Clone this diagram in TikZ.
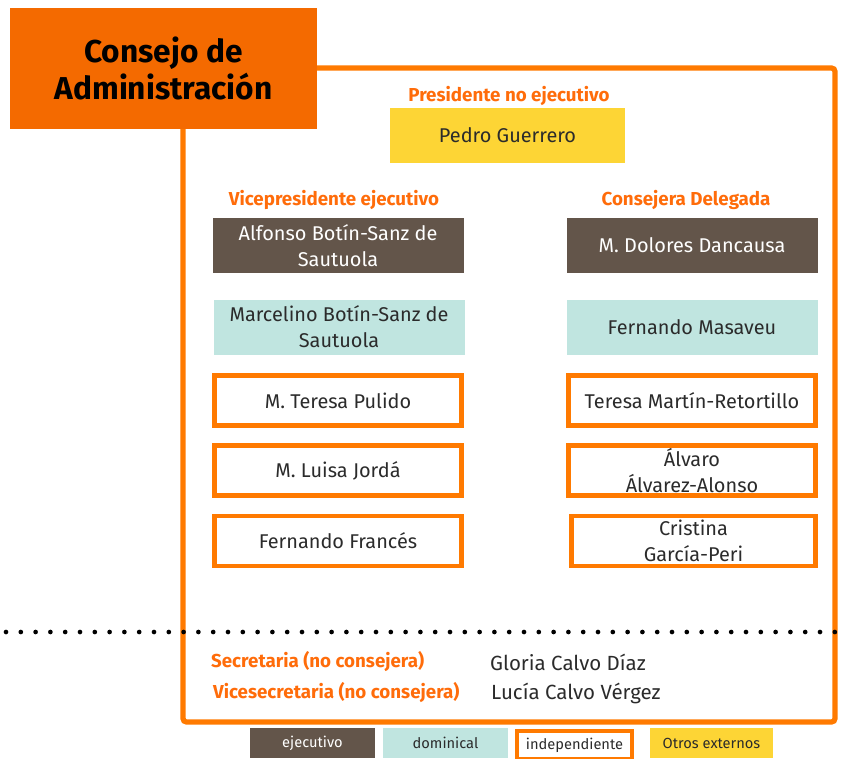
\documentclass[tikz,border=0pt]{standalone}
\usepackage{fontspec}
\setmainfont{Fira Sans}
\usepackage{xcolor}
\usetikzlibrary{positioning}

\definecolor{boxorange}{HTML}{F46A00}
\definecolor{frameorange}{HTML}{FF7A00}
\definecolor{textorange}{HTML}{FF6C0A}
\definecolor{ejebrown}{HTML}{63554A}
\definecolor{domteal}{HTML}{C0E5E0}
\definecolor{extyellow}{HTML}{FDD535}
\definecolor{nametext}{HTML}{2B2B2B}

\newcommand{\pxu}{0.03cm}

\tikzset{
  member/.style={minimum width=251*\pxu, minimum height=55*\pxu, align=center,
    font=\fontsize{17}{22}\selectfont, inner sep=0pt},
  ejec/.style={member, fill=ejebrown, text=white},
  domin/.style={member, fill=domteal, text=nametext},
  indep/.style={member, draw=frameorange, line width=3.5pt, fill=white, text=nametext,
    minimum width=247*\pxu, minimum height=50*\pxu},
  otros/.style={member, fill=extyellow, text=nametext},
  cargo/.style={text=textorange, font=\bfseries\fontsize{16}{19}\selectfont},
  legend/.style={minimum width=124*\pxu, minimum height=30*\pxu, inner sep=0pt,
    font=\fontsize{12.5}{15}\selectfont, text=nametext},
}

\begin{document}
\begin{tikzpicture}[x=\pxu,y=-\pxu]
\useasboundingbox (0,0) rectangle (853,758);

% marco del consejo
\draw[frameorange, line width=4.5pt, rounded corners=3pt] (183,68) rectangle (835,722);
\node[fill=boxorange, minimum width=307*\pxu, minimum height=121*\pxu, align=center,
  font=\bfseries\fontsize{27}{31}\selectfont] (titulo) at (163.5,68.5) {Consejo de\\Administración};

% presidente
\node[cargo] (lblpres) at (509,96) {Presidente no ejecutivo};
\node[otros, minimum width=235*\pxu] (guerrero) at (507.5,135.5) {Pedro Guerrero};

% columna izquierda
\node[cargo] (lblvice) at (334,200) {Vicepresidente ejecutivo};
\node[ejec] (alfonso) at (338,245.5) {Alfonso Botín-Sanz de\\Sautuola};
\node[domin] (marcelino) at (339,327) {Marcelino Botín-Sanz de\\Sautuola};
\node[indep] (pulido) at (338,400.5) {M. Teresa Pulido};
\node[indep] (jorda) at (338,470.5) {M. Luisa Jordá};
\node[indep] (frances) at (338,541) {Fernando Francés};

% columna derecha
\node[cargo] (lbldeleg) at (686,200) {Consejera Delegada};
\node[ejec] (dancausa) at (692,245.5) {M. Dolores Dancausa};
\node[domin] (masaveu) at (692,327) {Fernando Masaveu};
\node[indep] (retortillo) at (692,400.5) {Teresa Martín-Retortillo};
\node[indep] (alvarez) at (692,470.5) {Álvaro\\Álvarez-Alonso};
\node[indep, minimum width=244*\pxu] (garcia) at (693.5,541) {Cristina\\García-Peri};

% separador
\foreach \i in {0,...,56}
  \fill[black] (6+14.8*\i,632) circle (2pt);

% secretaria
\node[cargo, anchor=west] (lblsec) at (207,662) {Secretaria (no consejera)};
\node[anchor=west, text=nametext, font=\fontsize{17.5}{21}\selectfont] (calvodiaz) at (486,662) {Gloria Calvo Díaz};
\node[cargo, anchor=west] (lblvsec) at (209,693) {Vicesecretaria (no consejera)};
\node[anchor=west, text=nametext, font=\fontsize{17.5}{21}\selectfont] (calvovergez) at (487,693) {Lucía Calvo Vérgez};

% leyenda
\node[legend, fill=ejebrown, text=white, minimum width=125*\pxu] (legejec) at (312.5,743) {ejecutivo};
\node[legend, fill=domteal, minimum width=125*\pxu] (legdom) at (445.5,743) {dominical};
\node[legend, draw=frameorange, line width=3pt, minimum width=115*\pxu, minimum height=28*\pxu] (legind) at (574.5,745) {independiente};
\node[legend, fill=extyellow, minimum width=123*\pxu] (legotros) at (711.5,743) {Otros externos};
\end{tikzpicture}
\end{document}
